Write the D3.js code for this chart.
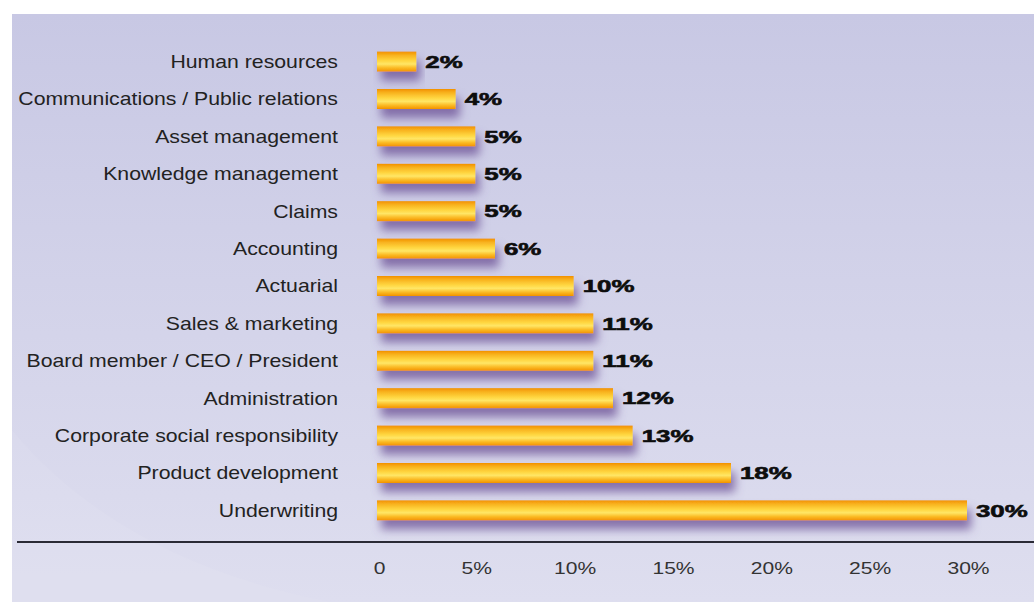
<!DOCTYPE html>
<html>
<head>
<meta charset="utf-8">
<script src="https://cdn.jsdelivr.net/npm/d3@7"></script>
<style>
  body { margin: 0; background: #ffffff; }
  svg { display: block; }
</style>
</head>
<body>
<svg id="chart"></svg>
<script>
// data, top to bottom as drawn
const categories = ["Human resources", "Communications / Public relations", "Asset management",
  "Knowledge management", "Claims", "Accounting", "Actuarial", "Sales & marketing",
  "Board member / CEO / President", "Administration", "Corporate social responsibility",
  "Product development", "Underwriting"];
const values = [2, 4, 5, 5, 5, 6, 10, 11, 11, 12, 13, 18, 30];
const tickValues = [0, 5, 10, 15, 20, 25, 30];
const tickLabels = ["0", "5%", "10%", "15%", "20%", "25%", "30%"];

const W = 1034, H = 608;
const svg = d3.select("#chart").attr("width", W).attr("height", H);

const defs = svg.append("defs");

// panel background gradient
const bg = defs.append("linearGradient").attr("id", "bg")
  .attr("x1", 0).attr("y1", 0).attr("x2", 0).attr("y2", 1);
bg.append("stop").attr("offset", "0%").attr("stop-color", "#c8c8e4");
bg.append("stop").attr("offset", "100%").attr("stop-color", "#dedeef");

// bar gradient
const bar = defs.append("linearGradient").attr("id", "barGrad")
  .attr("x1", 0).attr("y1", 0).attr("x2", 0).attr("y2", 1);
[["0%", "#f29000"], ["18%", "#f8b21e"], ["45%", "#ffd640"], ["62%", "#ffe666"],
 ["80%", "#fbbd28"], ["100%", "#f39200"]].forEach(s =>
  bar.append("stop").attr("offset", s[0]).attr("stop-color", s[1]));

const shadow = defs.append("filter").attr("id", "shadow")
  .attr("x", "-10%").attr("y", "-60%").attr("width", "130%").attr("height", "280%");
shadow.append("feDropShadow").attr("dx", 4).attr("dy", 9).attr("stdDeviation", 5)
  .attr("flood-color", "#6c4f94").attr("flood-opacity", 0.75);

svg.append("rect").attr("x", 12).attr("y", 14).attr("width", W - 12).attr("height", 588)
  .attr("fill", "url(#bg)");

// faint light sweep in the lower left
svg.append("path")
  .attr("d", "M12,430 Q120,560 330,602 L12,602 Z")
  .attr("fill", "#ffffff").attr("opacity", 0.06);

const x = d3.scaleLinear().domain([0, 30]).range([377, 967]);
const y = d3.scaleBand().domain(categories).range([43, 529]).paddingInner(0.465).paddingOuter(0.23);

const data = categories.map((c, i) => ({ cat: c, val: values[i] }));

// bars
svg.append("g").selectAll("rect")
  .data(data)
  .join("rect")
    .attr("x", x(0))
    .attr("y", d => y(d.cat))
    .attr("width", d => x(d.val) - x(0))
    .attr("height", y.bandwidth())
    .attr("fill", "url(#barGrad)")
    .attr("filter", "url(#shadow)");

// category labels (stretched to mimic the wide original face)
svg.append("g").selectAll("text")
  .data(data)
  .join("text")
    .attr("transform", d => `translate(338,${y(d.cat) + y.bandwidth() / 2}) scale(1.18,1)`)
    .attr("dy", "0.36em")
    .attr("text-anchor", "end")
    .attr("font-family", "'Liberation Sans', Arial, sans-serif")
    .attr("font-size", "18px")
    .attr("fill", "#222")
    .text(d => d.cat);

// value labels, heavy and stretched wide
svg.append("g").selectAll("text")
  .data(data)
  .join("text")
    .attr("transform", d => `translate(${x(d.val) + 9},${y(d.cat) + y.bandwidth() / 2}) scale(1.52,1)`)
    .attr("dy", "0.36em")
    .attr("font-family", "'Liberation Sans', Arial, sans-serif")
    .attr("font-weight", "bold")
    .attr("font-size", "17px")
    .attr("fill", "#0d0d0d")
    .attr("stroke", "#0d0d0d")
    .attr("stroke-width", 0.6)
    .text(d => d.val + "%");

// axis
const axisY = 542;
svg.append("line").attr("x1", 17).attr("x2", W).attr("y1", axisY).attr("y2", axisY)
  .attr("stroke", "#2a2a35").attr("stroke-width", 2);

const xAxis = d3.axisBottom(x).tickValues(tickValues)
  .tickFormat((d, i) => tickLabels[i]).tickSize(0).tickPadding(0);
const ax = svg.append("g").attr("transform", `translate(0,${axisY + 26})`).call(xAxis);
ax.select(".domain").remove();
ax.selectAll("text")
  .attr("font-family", "'Liberation Sans', Arial, sans-serif")
  .attr("font-size", "17px")
  .attr("fill", "#333")
  .attr("dy", "0.35em")
  .attr("transform", (d, i) => `translate(${i === 0 ? 2 : 1},0) scale(1.24,1)`);
</script>
</body>
</html>
